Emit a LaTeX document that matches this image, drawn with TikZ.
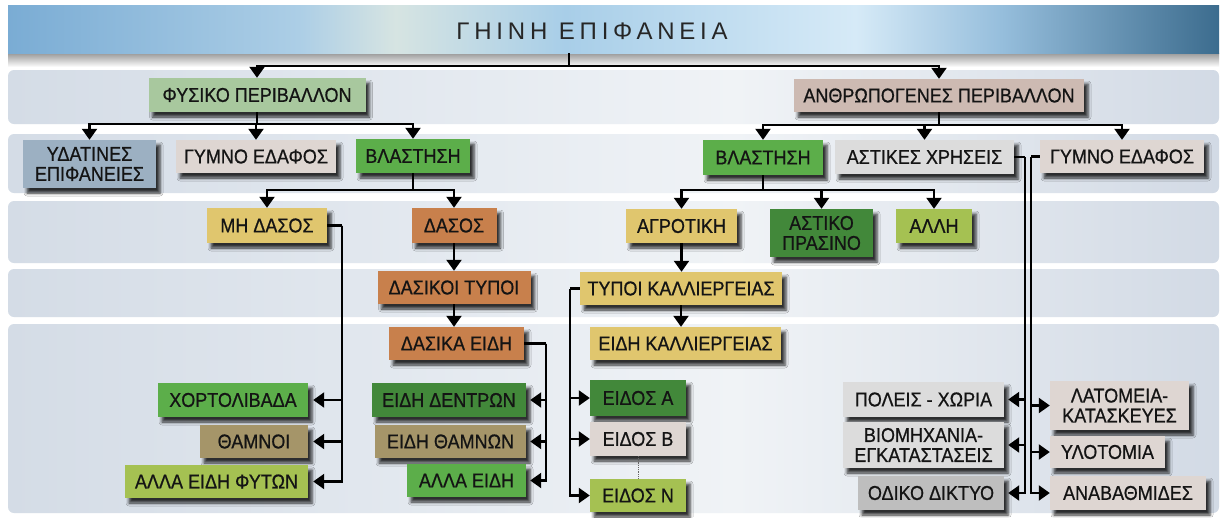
\documentclass[tikz,border=0pt]{standalone}
\usepackage{fontspec}
\setmainfont{Liberation Sans}
\newfontfamily\boxfont[FakeStretch=0.9,FakeBold=0.7]{Liberation Sans}
\newfontfamily\titlefont[LetterSpace=20]{Liberation Sans}
\usetikzlibrary{arrows.meta,shadows.blur}

% title bar and band colours
\definecolor{tb0}{RGB}{122,172,212}
\definecolor{tb1}{RGB}{172,206,230}
\definecolor{tb2}{RGB}{214,228,226}
\definecolor{tb3}{RGB}{168,206,232}
\definecolor{tb4}{RGB}{214,234,247}
\definecolor{tb5}{RGB}{150,190,220}
\definecolor{tb6}{RGB}{60,108,142}
\definecolor{bd0}{RGB}{212,220,230}
\definecolor{bd1}{RGB}{230,235,241}
\definecolor{bd2}{RGB}{240,243,246}
\definecolor{bd3}{RGB}{210,218,229}

% box colours
\definecolor{cFys}{RGB}{168,200,158}
\definecolor{cAnth}{RGB}{205,186,178}
\definecolor{cWater}{RGB}{156,176,194}
\definecolor{cBare}{RGB}{222,214,210}
\definecolor{cVeg}{RGB}{92,174,74}
\definecolor{cUrban}{RGB}{220,220,220}
\definecolor{cMustard}{RGB}{224,198,110}
\definecolor{cForest}{RGB}{200,128,76}
\definecolor{cDarkGreen}{RGB}{66,136,58}
\definecolor{cLime}{RGB}{165,193,82}
\definecolor{cKhaki}{RGB}{165,149,105}
\definecolor{cRoad}{RGB}{190,190,190}

\pgfdeclarehorizontalshading{titlebar}{100bp}{color(0bp)=(tb0); color(25bp)=(tb0); color(37bp)=(tb1); color(41bp)=(tb2); color(48bp)=(tb3); color(60bp)=(tb4); color(66bp)=(tb5); color(75bp)=(tb6); color(100bp)=(tb6)}
\pgfdeclarehorizontalshading{bandshade}{100bp}{color(0bp)=(bd0); color(25bp)=(bd0); color(45bp)=(bd1); color(55bp)=(bd2); color(75bp)=(bd3); color(100bp)=(bd3)}

\tikzset{
  box/.style={inner sep=0pt, align=center, text=black!92,
    font=\boxfont\fontsize{20}{20}\selectfont,
    blur shadow={shadow xshift=4pt, shadow yshift=-5pt, shadow blur radius=3pt, shadow opacity=80}},
  band/.style={shading=bandshade, rounded corners=6pt},
  link/.style={line width=2.2pt, black},
  arr/.style={link, -{Triangle[width=15pt,length=11pt]}},
}

\begin{document}
\begin{tikzpicture}[x=1pt,y=-1pt]
\useasboundingbox (0,0) rectangle (1223,517);
\fill[white] (0,0) rectangle (1223,517);

% horizontal bands behind the levels
\path[band] (8,70) rectangle (1219,124);
\path[band] (8,134) rectangle (1219,193);
\path[band] (8,201) rectangle (1219,263);
\path[band] (8,269) rectangle (1219,317);
\path[band] (8,324) rectangle (1219,513);

% title bar with its soft shadow
\shade[top color=black!40, bottom color=white] (8,53) rectangle (1219,67);
\node[inner sep=0pt, minimum width=1211, minimum height=48, shading=titlebar] (title) at (613.5,29) {};
\node[inner sep=0pt, text=black!85, font=\titlefont\fontsize{24}{24}\selectfont] (ttext) at (592,31) {ΓΗΙΝΗ ΕΠΙΦΑΝΕΙΑ};

% level 1
\node[box,fill=cFys,minimum width=217,minimum height=34] (fys) at (257,95) {ΦΥΣΙΚΟ ΠΕΡΙΒΑΛΛΟΝ};
\node[box,fill=cAnth,minimum width=290,minimum height=33] (anth) at (939,95.5) {ΑΝΘΡΩΠΟΓΕΝΕΣ ΠΕΡΙΒΑΛΛΟΝ};

% level 2
\node[box,fill=cWater,minimum width=133,minimum height=48] (yda) at (89.5,164) {ΥΔΑΤΙΝΕΣ\\ΕΠΙΦΑΝΕΙΕΣ};
\node[box,fill=cBare,minimum width=160,minimum height=33] (gym1) at (256,156.5) {ΓΥΜΝΟ ΕΔΑΦΟΣ};
\node[box,fill=cVeg,minimum width=114,minimum height=34] (vla1) at (413,156) {ΒΛΑΣΤΗΣΗ};
\node[box,fill=cVeg,minimum width=120,minimum height=35] (vla2) at (763,157.5) {ΒΛΑΣΤΗΣΗ};
\node[box,fill=cUrban,minimum width=179,minimum height=34] (ast) at (924.5,157) {ΑΣΤΙΚΕΣ ΧΡΗΣΕΙΣ};
\node[box,fill=cBare,minimum width=164,minimum height=33] (gym2) at (1122,156.5) {ΓΥΜΝΟ ΕΔΑΦΟΣ};

% level 3
\node[box,fill=cMustard,minimum width=120,minimum height=35] (mhd) at (267,225.5) {ΜΗ ΔΑΣΟΣ};
\node[box,fill=cForest,minimum width=85,minimum height=35] (das) at (454,225.5) {ΔΑΣΟΣ};
\node[box,fill=cMustard,minimum width=111,minimum height=34] (agr) at (681.5,226) {ΑΓΡΟΤΙΚΗ};
\node[box,fill=cDarkGreen,minimum width=103,minimum height=48] (astp) at (821.5,233) {ΑΣΤΙΚΟ\\ΠΡΑΣΙΝΟ};
\node[box,fill=cLime,minimum width=76,minimum height=34] (allh) at (934,226) {ΑΛΛΗ};

% level 4
\node[box,fill=cForest,minimum width=153,minimum height=33] (dtyp) at (454,287.5) {ΔΑΣΙΚΟΙ ΤΥΠΟΙ};
\node[box,fill=cMustard,minimum width=202,minimum height=33] (tkal) at (681,288.5) {ΤΥΠΟΙ ΚΑΛΛΙΕΡΓΕΙΑΣ};

% level 5
\node[box,fill=cForest,minimum width=135,minimum height=33] (deid) at (456.5,343.5) {ΔΑΣΙΚΑ ΕΙΔΗ};
\node[box,fill=cMustard,minimum width=191,minimum height=33] (ekal) at (685.5,343.5) {ΕΙΔΗ ΚΑΛΛΙΕΡΓΕΙΑΣ};

\node[box,fill=cVeg,minimum width=150,minimum height=34] (xort) at (233,400) {ΧΟΡΤΟΛΙΒΑΔΑ};
\node[box,fill=cKhaki,minimum width=108,minimum height=33] (tham) at (254,441.5) {ΘΑΜΝΟΙ};
\node[box,fill=cLime,minimum width=183,minimum height=33] (allf) at (216.5,481.5) {ΑΛΛΑ ΕΙΔΗ ΦΥΤΩΝ};

\node[box,fill=cDarkGreen,minimum width=154,minimum height=34] (dend) at (449,400) {ΕΙΔΗ ΔΕΝΤΡΩΝ};
\node[box,fill=cKhaki,minimum width=151,minimum height=33] (thmn) at (450.5,441.5) {ΕΙΔΗ ΘΑΜΝΩΝ};
\node[box,fill=cVeg,minimum width=119,minimum height=33] (alle) at (466.5,480.5) {ΑΛΛΑ ΕΙΔΗ};

\node[box,fill=cDarkGreen,minimum width=96,minimum height=36] (eia) at (638,398) {ΕΙΔΟΣ Α};
\node[box,fill=cBare,minimum width=96,minimum height=34] (eib) at (638,439) {ΕΙΔΟΣ Β};
\node[box,fill=cLime,minimum width=96,minimum height=33] (ein) at (638,495.5) {ΕΙΔΟΣ Ν};

\node[box,fill=cUrban,minimum width=161,minimum height=35] (pol) at (923.5,399.5) {ΠΟΛΕΙΣ - ΧΩΡΙΑ};
\node[box,fill=cUrban,minimum width=161,minimum height=46] (bio) at (923.5,445) {ΒΙΟΜΗΧΑΝΙΑ-\\ΕΓΚΑΤΑΣΤΑΣΕΙΣ};
\node[box,fill=cRoad,minimum width=146,minimum height=34] (odi) at (931,493) {ΟΔΙΚΟ ΔΙΚΤΥΟ};

\node[box,fill=cBare,minimum width=139,minimum height=49] (lat) at (1119.5,405.5) {ΛΑΤΟΜΕΙΑ-\\ΚΑΤΑΣΚΕΥΕΣ};
\node[box,fill=cBare,minimum width=115,minimum height=32] (ylo) at (1107.5,452) {ΥΛΟΤΟΜΙΑ};
\node[box,fill=cBare,minimum width=156,minimum height=34] (ana) at (1128,493) {ΑΝΑΒΑΘΜΙΔΕΣ};

% title to the two environments
\coordinate (tj) at (569,66);
\draw[link] (title.south -| tj) -- (tj);
\draw[arr] (tj) -| (fys);
\draw[arr] (tj) -| (anth);

% natural environment
\draw[link] (fys.south) -- ++(0,12) coordinate (fj);
\draw[arr] (fj) -| (yda);
\draw[arr] (fj) -| (gym1);
\draw[arr] (fj) -| (vla1);

% human-made environment
\draw[link] (anth.south) -- ++(0,13) coordinate (aj);
\draw[arr] (aj) -| (vla2);
\draw[arr] (aj) -| (ast);
\draw[arr] (aj) -| (gym2);

% vegetation (natural)
\draw[link] (vla1.south) -- ++(0,17) coordinate (vj1);
\draw[arr] (vj1) -| (mhd);
\draw[arr] (vj1) -| (das);

% vegetation (human-made)
\draw[link] (vla2.south) -- ++(0,15) coordinate (vj2);
\draw[arr] (vj2) -| (agr);
\draw[arr] (vj2) -| (astp);
\draw[arr] (vj2) -| (allh);

% vertical chains
\draw[arr] (das.south) -- (das.south |- dtyp.north);
\draw[arr] (dtyp.south) -- (dtyp.south |- deid.north);
\draw[arr] (agr.south) -- (agr.south |- tkal.north);
\draw[arr] (tkal.south) -- (tkal.south |- ekal.north);

% non-forest bracket
\draw[link] (mhd.east) -- ++(15,0) coordinate (mb);
\draw[arr, shorten >=5pt] (mb) |- (xort.east);
\draw[arr, shorten >=5pt] (mb) |- (tham.east);
\draw[arr, shorten >=5pt] (mb) |- (allf.east);

% forest species bracket
\draw[link] (deid.east) -- ++(22,0) coordinate (db);
\draw[arr, shorten >=4pt] (db) |- (dend.east);
\draw[arr, shorten >=4pt] (db) |- (thmn.east);
\draw[arr, shorten >=4pt] (db) |- (alle.east);

% crop types bracket
\draw[link] (tkal.west) -- ++(-10,0) coordinate (kb);
\draw[arr] (kb) |- (eia.west);
\draw[arr] (kb) |- (eib.west);
\draw[arr] (kb) |- (ein.west);
\draw[densely dotted, black!60, line width=0.8pt] (eib.south) -- (ein.north);

% urban uses
\draw[link] (ast.east) -- ++(10.5,0) coordinate (sb);
\draw[arr, shorten >=4pt] (sb) |- (pol.east);
\draw[arr, shorten >=4pt] (sb) |- (bio.east);
\draw[arr, shorten >=4pt] (sb) |- (odi.east);

% bare ground (human-made)
\draw[link] (gym2.west) -- ++(-9,0) coordinate (gb);
\draw[arr] (gb) |- (lat.west);
\draw[arr] (gb) |- (ylo.west);
\draw[arr] (gb) |- (ana.west);
\end{tikzpicture}
\end{document}
